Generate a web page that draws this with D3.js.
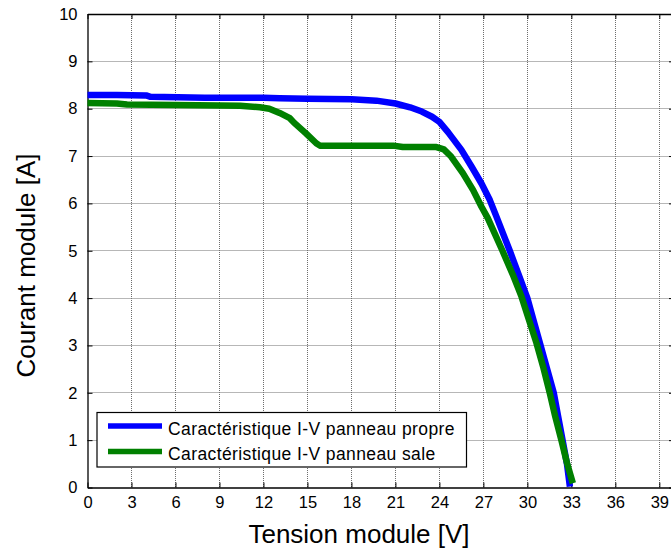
<!DOCTYPE html>
<html><head><meta charset="utf-8">
<script src="https://cdn.jsdelivr.net/npm/d3@7"></script>
<style>
html,body{margin:0;padding:0;background:#fff;}
svg{display:block;font-family:"Liberation Sans",Arial,sans-serif;}
</style></head>
<body>
<svg id="c" width="671" height="554"></svg>
<script>
// Data (Tension V, Courant A)
const cleanV = [0, 2, 4, 4.3, 8, 12, 13.1, 15, 18, 19.7, 21, 22.0, 22.8, 23.5, 24.0, 24.6, 25.5, 26.19, 26.87, 27.44, 27.89, 28.8, 29.4, 30.0, 30.45, 30.9, 31.35, 31.8, 32.1, 32.4, 32.7, 32.9];
const cleanI = [8.29, 8.29, 8.28, 8.25, 8.23, 8.23, 8.22, 8.21, 8.20, 8.17, 8.11, 8.03, 7.94, 7.83, 7.72, 7.50, 7.13, 6.78, 6.42, 6.07, 5.72, 5.00, 4.50, 4.00, 3.50, 3.00, 2.50, 2.00, 1.50, 1.00, 0.50, 0.02];
const dirtyV = [0, 2, 2.7, 6, 9, 10.4, 11.76, 12.4, 13.1, 13.8, 14.1, 14.9, 15.6, 15.85, 18, 20.85, 21.5, 23.8, 24.3, 24.8, 25.6, 26.3, 26.87, 27.3, 28.3, 29.0, 29.6, 30.1, 30.62, 31.1, 31.53, 31.9, 32.32, 32.7, 33.1];
const dirtyI = [8.12, 8.11, 8.09, 8.08, 8.07, 8.06, 8.03, 8.00, 7.91, 7.80, 7.70, 7.48, 7.27, 7.22, 7.22, 7.22, 7.19, 7.19, 7.14, 6.99, 6.64, 6.28, 5.93, 5.69, 5.00, 4.50, 4.03, 3.55, 3.05, 2.52, 1.99, 1.50, 1.00, 0.52, 0.09];
const xTicks = [0, 3, 6, 9, 12, 15, 18, 21, 24, 27, 30, 33, 36, 39];
const yTicks = [0, 1, 2, 3, 4, 5, 6, 7, 8, 9, 10];
const seriesNames = ["Caractéristique I-V panneau propre", "Caractéristique I-V panneau sale"];
const seriesColors = ["#0000ff", "#008000"];

const svg = d3.select("#c");
const L = 87.5, R = 674, T = 14, B = 487.5;
const x = d3.scaleLinear().domain([0, 40]).range([L, R]);
const y = d3.scaleLinear().domain([0, 10]).range([B, T]);
const px = v => Math.round(v - 0.5) + 0.5;

// grid
const g = svg.append("g");
g.selectAll(".gx").data(xTicks.filter(d => d > 0)).enter().append("line")
  .attr("x1", d => px(x(d))).attr("x2", d => px(x(d))).attr("y1", T).attr("y2", B)
  .attr("stroke", "#6e6e6e").attr("stroke-width", 1).attr("stroke-dasharray", "1,1");
g.selectAll(".gy").data(yTicks.filter(d => d > 0 && d < 10)).enter().append("line")
  .attr("y1", d => px(y(d))).attr("y2", d => px(y(d))).attr("x1", L).attr("x2", R)
  .attr("stroke", "#6e6e6e").attr("stroke-width", 1).attr("stroke-dasharray", "1,1");

// axes
const xAxB = d3.axisBottom(x).tickValues(xTicks).tickSizeInner(-5).tickSizeOuter(0).tickPadding(9);
const xAxT = d3.axisTop(x).tickValues(xTicks).tickSizeInner(-5).tickSizeOuter(0).tickFormat("");
const yAxL = d3.axisLeft(y).tickValues(yTicks).tickSizeInner(-5).tickSizeOuter(0).tickPadding(10);
const yAxR = d3.axisRight(y).tickValues(yTicks).tickSizeInner(-5).tickSizeOuter(0).tickFormat("");
function style(sel){
  sel.selectAll("path").attr("stroke", "#000").attr("stroke-width", 1.3);
  sel.selectAll("line").attr("stroke", "#000").attr("stroke-width", 1);
  sel.selectAll("text").attr("font-size", 16.5).attr("fill", "#000").attr("font-family", "Liberation Sans, Arial, sans-serif");
}
svg.append("g").attr("transform", `translate(0,${B})`).call(xAxB).call(style);
svg.append("g").attr("transform", `translate(0,${T})`).call(xAxT).call(style);
svg.append("g").attr("transform", `translate(${L},0)`).call(yAxL).call(style);
svg.append("g").attr("transform", `translate(${R},0)`).call(yAxR).call(style);

// curves
const line = d3.line().x(d => x(d[0])).y(d => y(d[1]));
const cleanData = cleanV.map((v, i) => [v, cleanI[i]]);
const dirtyData = dirtyV.map((v, i) => [v, dirtyI[i]]);
[cleanData, dirtyData].forEach((d, i) => {
  svg.append("path").datum(d).attr("d", line).attr("fill", "none")
    .attr("stroke", seriesColors[i]).attr("stroke-width", 6.5).attr("stroke-linejoin", "round");
});

// legend
const lg = svg.append("g");
lg.append("rect").attr("x", 97).attr("y", 412.5).attr("width", 369.5).attr("height", 54.5)
  .attr("fill", "#fff").attr("stroke", "#000").attr("stroke-width", 1.2);
const rowY = [426, 451.5];
seriesNames.forEach((n, i) => {
  lg.append("line").attr("x1", 108).attr("x2", 162).attr("y1", rowY[i]).attr("y2", rowY[i])
    .attr("stroke", seriesColors[i]).attr("stroke-width", 5.5);
  lg.append("text").attr("x", 168).attr("y", rowY[i] + 8.5).text(n)
    .attr("font-size", 17.5).attr("letter-spacing", 0.4).attr("fill", "#000");
});

// titles
svg.append("text").attr("x", 359).attr("y", 543).attr("text-anchor", "middle")
  .attr("font-size", 26).text("Tension module [V]");
svg.append("text").attr("transform", "translate(35,265.5) rotate(-90)").attr("text-anchor", "middle")
  .attr("font-size", 26).text("Courant module [A]");
</script>
</body></html>
